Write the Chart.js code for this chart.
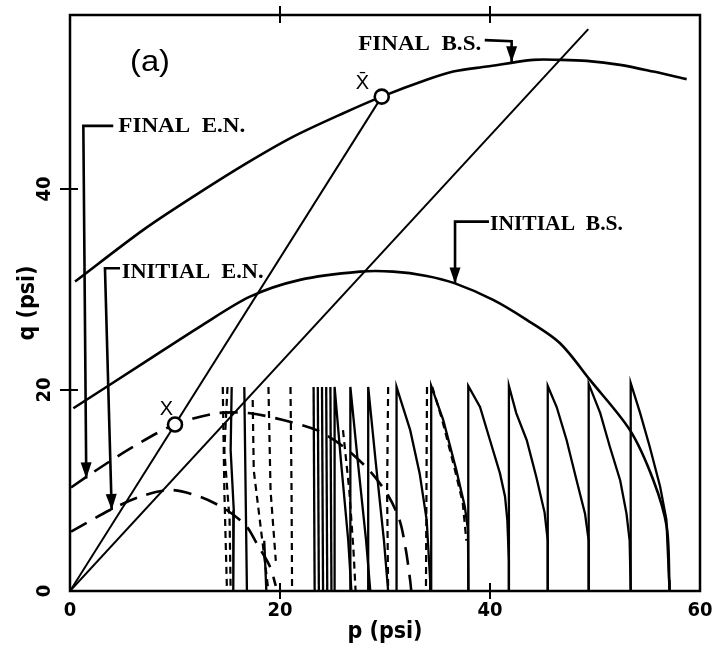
<!DOCTYPE html>
<html>
<head>
<meta charset="utf-8">
<script src="https://cdn.jsdelivr.net/npm/chart.js@4.4.1/dist/chart.umd.min.js"></script>
<style>
  html, body { margin: 0; padding: 0; background: #fff; }
  #wrap { width: 728px; height: 646px; }
</style>
</head>
<body>
<div id="wrap"><canvas id="chart"></canvas></div>
<script>
// axis ticks
const xTicks = [0, 20, 40, 60];
const yTicks = [0, 20, 40];

// stress points X and X-bar (p, q)
const markers = [[10.0, 16.56], [29.69, 49.18]];

// bounding surfaces (solid)
const finalBS = [[0.48, 30.78], [6.98, 35.92], [11.74, 39.23], [16.83, 42.56], [21.27, 45.2], [26.03, 47.53],
  [29.69, 49.18], [33.97, 50.85], [36.5, 51.67], [39.69, 52.17], [44.12, 52.84], [46.67, 52.84],
  [49.21, 52.74], [52.38, 52.34], [55.55, 51.67], [58.73, 50.92]];
const initialBS = [[0.32, 18.18], [6.98, 22.66], [12.38, 26.3], [17.14, 29.28], [21.9, 30.95], [27.62, 31.77],
  [30.79, 31.77], [33.97, 31.34], [36.67, 30.6], [40.3, 28.96], [43.5, 26.97], [46.67, 24.65],
  [49.52, 21.0], [53.33, 16.0], [55.55, 11.04], [56.83, 6.4], [57.08, 0.93], [57.1, 0]];

// elastic nuclei (dashed)
const finalEN = [[0.1, 10.3], [2.54, 12.04], [6.03, 14.36], [10.0, 16.56], [13.97, 17.68], [17.14, 17.68],
  [20.3, 17.0], [23.5, 16.0], [26.0, 14.4], [28.5, 12.0], [30.3, 9.5], [31.4, 7.0], [32.0, 4.0], [32.4, 1.0], [32.5, 0]];
const initialEN = [[0.1, 5.9], [3.81, 8.06], [6.67, 9.38], [9.52, 10.05], [12.38, 9.38], [14.92, 8.06],
  [16.83, 6.4], [17.78, 4.74], [19.05, 2.42], [19.6, 0.5]];

// stress paths from the origin
const pathSteep = [[0, 0], [29.69, 49.18]];
const pathFlat = [[0, 0], [49.36, 55.89]];

// cyclic loading traces (solid)
const cyclesSolid = [
  [[15.4, 20.3], [15.3, 14], [15.6, 8], [15.55, 0]],
  [[16.6, 20.3], [16.7, 12], [16.85, 0]],
  [[18.5, 5], [18.7, 0]],
  [[23.2, 20.3], [23.3, 0]],
  [[23.6, 20.3], [23.7, 0]],
  [[24.0, 20.3], [24.1, 0]],
  [[24.4, 20.3], [24.5, 0]],
  [[24.8, 20.3], [24.9, 0]],
  [[25.2, 0], [25.2, 20.3], [25.8, 13], [26.5, 5], [26.8, 0]],
  [[26.7, 0], [26.7, 20.3], [27.4, 13], [28.2, 5], [28.6, 0]],
  [[28.4, 0], [28.4, 20.3], [29.1, 13], [29.9, 5], [30.3, 0]],
  [[31.1, 0], [31.1, 20.3], [32.4, 16.0], [33.3, 11.7], [33.97, 7.06], [34.3, 1.1], [34.3, 0]],
  [[34.4, 0], [34.4, 20.4], [35.55, 17.0], [36.8, 12.0], [37.6, 8.4], [37.9, 6.1], [37.95, 0]],
  [[37.93, 0], [37.93, 20.4], [39.05, 18.3], [40.0, 15.0], [40.95, 11.7], [41.43, 9.4], [41.65, 7.06], [41.8, 3], [41.8, 0]],
  [[41.8, 0], [41.8, 20.4], [42.5, 17.7], [43.5, 15.0], [44.4, 11.4], [45.2, 7.8], [45.5, 5], [45.5, 0]],
  [[45.5, 0], [45.5, 20.4], [46.35, 18.3], [47.3, 15.0], [48.25, 11.0], [49.05, 7.7], [49.4, 5], [49.4, 0]],
  [[49.4, 0], [49.4, 20.6], [50.5, 17.7], [51.4, 14.4], [52.4, 11.0], [53.0, 7.7], [53.3, 5], [53.4, 0]],
  [[53.4, 0], [53.4, 20.7], [54.3, 17.7], [55.2, 14.4], [56.2, 10.4], [56.8, 7.1], [57.05, 1.1], [57.1, 0]]
];

// cyclic loading traces (dashed)
const cyclesDashed = [
  [[14.55, 20.3], [14.7, 10], [14.95, 0]],
  [[15.0, 20.3], [14.7, 14], [15.2, 7], [15.3, 0]],
  [[17.4, 19], [17.5, 12], [18.2, 6], [18.9, 0]],
  [[18.9, 20.3], [19.1, 10], [19.6, 3]],
  [[21.0, 20.3], [21.1, 10], [21.15, 0]],
  [[26.0, 16], [26.6, 10], [27.0, 4], [27.2, 0]],
  [[30.3, 20.3], [30.2, 10], [30.3, 0]],
  [[34.0, 20.3], [33.9, 0]],
  [[34.5, 20.3], [35.4, 17.2], [36.6, 12.3], [37.4, 8.8], [37.75, 5]]
];

const pts = arr => arr.map(([x, y]) => ({ x, y }));
const line = (arr, extra) => Object.assign({
  data: pts(arr), showLine: true, pointRadius: 0, borderColor: '#000',
  borderWidth: 2.4, tension: 0, fill: false
}, extra);

const datasets = [
  { data: pts(markers), showLine: false, pointRadius: 7, pointBackgroundColor: '#fff',
    pointBorderColor: '#000', pointBorderWidth: 2.6 },
  line(finalBS, { tension: 0.3, borderWidth: 2.6 }),
  line(initialBS, { tension: 0.3, borderWidth: 2.6 }),
  line(finalEN, { tension: 0.3, borderWidth: 2.6, borderDash: [18, 10] }),
  line(initialEN, { tension: 0.3, borderWidth: 2.6, borderDash: [18, 10] }),
  line(pathSteep, { borderWidth: 2 }),
  line(pathFlat, { borderWidth: 2 })
];
cyclesSolid.forEach(c => datasets.push(line(c, { borderWidth: 2.3 })));
cyclesDashed.forEach(c => datasets.push(line(c, { borderWidth: 2.2, borderDash: [7, 5] })));

const condensed = "'Liberation Sans Narrow', 'DejaVu Sans Condensed', 'Liberation Sans', sans-serif";

// frame, crossing ticks, labels and arrows
const decor = {
  id: 'decor',
  afterDraw(chart) {
    const { ctx, chartArea: a, scales: { x, y } } = chart;
    const X = p => x.getPixelForValue(p), Y = q => y.getPixelForValue(q);
    ctx.save();
    ctx.strokeStyle = '#000';
    ctx.fillStyle = '#000';
    ctx.lineWidth = 2.5;
    ctx.strokeRect(a.left, a.top, a.right - a.left, a.bottom - a.top);

    ctx.lineWidth = 2;
    [20, 40].forEach(v => {
      ctx.beginPath();
      ctx.moveTo(X(v), a.bottom - 8); ctx.lineTo(X(v), a.bottom + 8);
      ctx.moveTo(X(v), a.top - 9); ctx.lineTo(X(v), a.top + 8);
      ctx.moveTo(a.left - 10, Y(v)); ctx.lineTo(a.left + 8, Y(v));
      ctx.stroke();
    });

    const text = (t, p, q, font, w, align) => {
      ctx.font = font;
      ctx.textBaseline = 'alphabetic';
      ctx.textAlign = 'left';
      const m = ctx.measureText(t).width;
      const s = w ? w / m : 1;
      ctx.save();
      let px = X(p);
      if (align === 'center') px -= (m * s) / 2;
      ctx.translate(px, Y(q));
      ctx.scale(s, 1);
      ctx.fillText(t, 0, 0);
      ctx.restore();
    };
    const serif = "bold 21px 'Liberation Serif', serif";
    text('(a)', 7.62, 51.7, "30px 'Liberation Sans', sans-serif", 40, 'center');
    text('FINAL  E.N.', 4.6, 45.7, serif, 127);
    text('INITIAL  E.N.', 4.92, 31.1, serif, 142);
    text('INITIAL  B.S.', 40.0, 35.92, serif, 133);
    text('FINAL  B.S.', 27.45, 53.8, serif, 123);
    text('X', 9.19, 17.5, "20px 'Liberation Sans', sans-serif", 0, 'center');
    text('X\u0304', 27.86, 49.9, "20px 'Liberation Sans', sans-serif", 0, 'center');

    const arrow = path => {
      ctx.lineWidth = 2.6;
      ctx.beginPath();
      path.forEach(([p, q], i) => i ? ctx.lineTo(X(p), Y(q)) : ctx.moveTo(X(p), Y(q)));
      ctx.stroke();
      const [p1, q1] = path[path.length - 2], [p2, q2] = path[path.length - 1];
      const x2 = X(p2), y2 = Y(q2);
      const ang = Math.atan2(y2 - Y(q1), x2 - X(p1));
      ctx.beginPath();
      ctx.moveTo(x2, y2);
      ctx.lineTo(x2 - 16 * Math.cos(ang) + 5.5 * Math.sin(ang), y2 - 16 * Math.sin(ang) - 5.5 * Math.cos(ang));
      ctx.lineTo(x2 - 16 * Math.cos(ang) - 5.5 * Math.sin(ang), y2 - 16 * Math.sin(ang) + 5.5 * Math.cos(ang));
      ctx.closePath();
      ctx.fill();
    };
    arrow([[4.12, 46.27], [1.27, 46.27], [1.55, 11.2]]);
    arrow([[4.76, 32.1], [3.33, 32.1], [3.97, 8.06]]);
    arrow([[39.9, 36.75], [36.67, 36.75], [36.67, 30.6]]);
    arrow([[39.5, 54.8], [42.06, 54.7], [42.06, 52.6]]);
    ctx.restore();
  }
};

new Chart(document.getElementById('chart'), {
  type: 'scatter',
  data: { datasets },
  options: {
    responsive: true,
    maintainAspectRatio: false,
    animation: false,
    layout: { padding: { left: 0, right: 28, top: 15, bottom: 0 } },
    plugins: { legend: { display: false }, tooltip: { enabled: false } },
    scales: {
      x: {
        type: 'linear', min: 0, max: 60,
        afterBuildTicks: s => { s.ticks = xTicks.map(v => ({ value: v })); },
        afterFit: s => { s.height = 55; s.paddingLeft = 0; s.paddingRight = 0; },
        grid: { display: false, drawTicks: false },
        border: { display: false },
        ticks: { color: '#000', autoSkip: false, maxRotation: 0, padding: 8,
          font: { family: condensed, size: 20, weight: 'bold' } },
        title: { display: true, text: 'p (psi)', color: '#000', padding: { top: 0, bottom: 0 },
          font: { family: condensed, size: 23, weight: 'bold' } }
      },
      y: {
        type: 'linear', min: 0, max: 57.3,
        afterBuildTicks: s => { s.ticks = yTicks.map(v => ({ value: v })); },
        afterFit: s => { s.width = 70; s.paddingTop = 0; s.paddingBottom = 0; },
        grid: { display: false, drawTicks: false },
        border: { display: false },
        ticks: { color: '#000', autoSkip: false, minRotation: 90, maxRotation: 90, crossAlign: 'center',
          padding: 13, font: { family: condensed, size: 20, weight: 'bold' } },
        title: { display: true, text: 'q (psi)', color: '#000', padding: { top: 14, bottom: 0 },
          font: { family: condensed, size: 23, weight: 'bold' } }
      }
    }
  },
  plugins: [decor]
});
</script>
</body>
</html>
